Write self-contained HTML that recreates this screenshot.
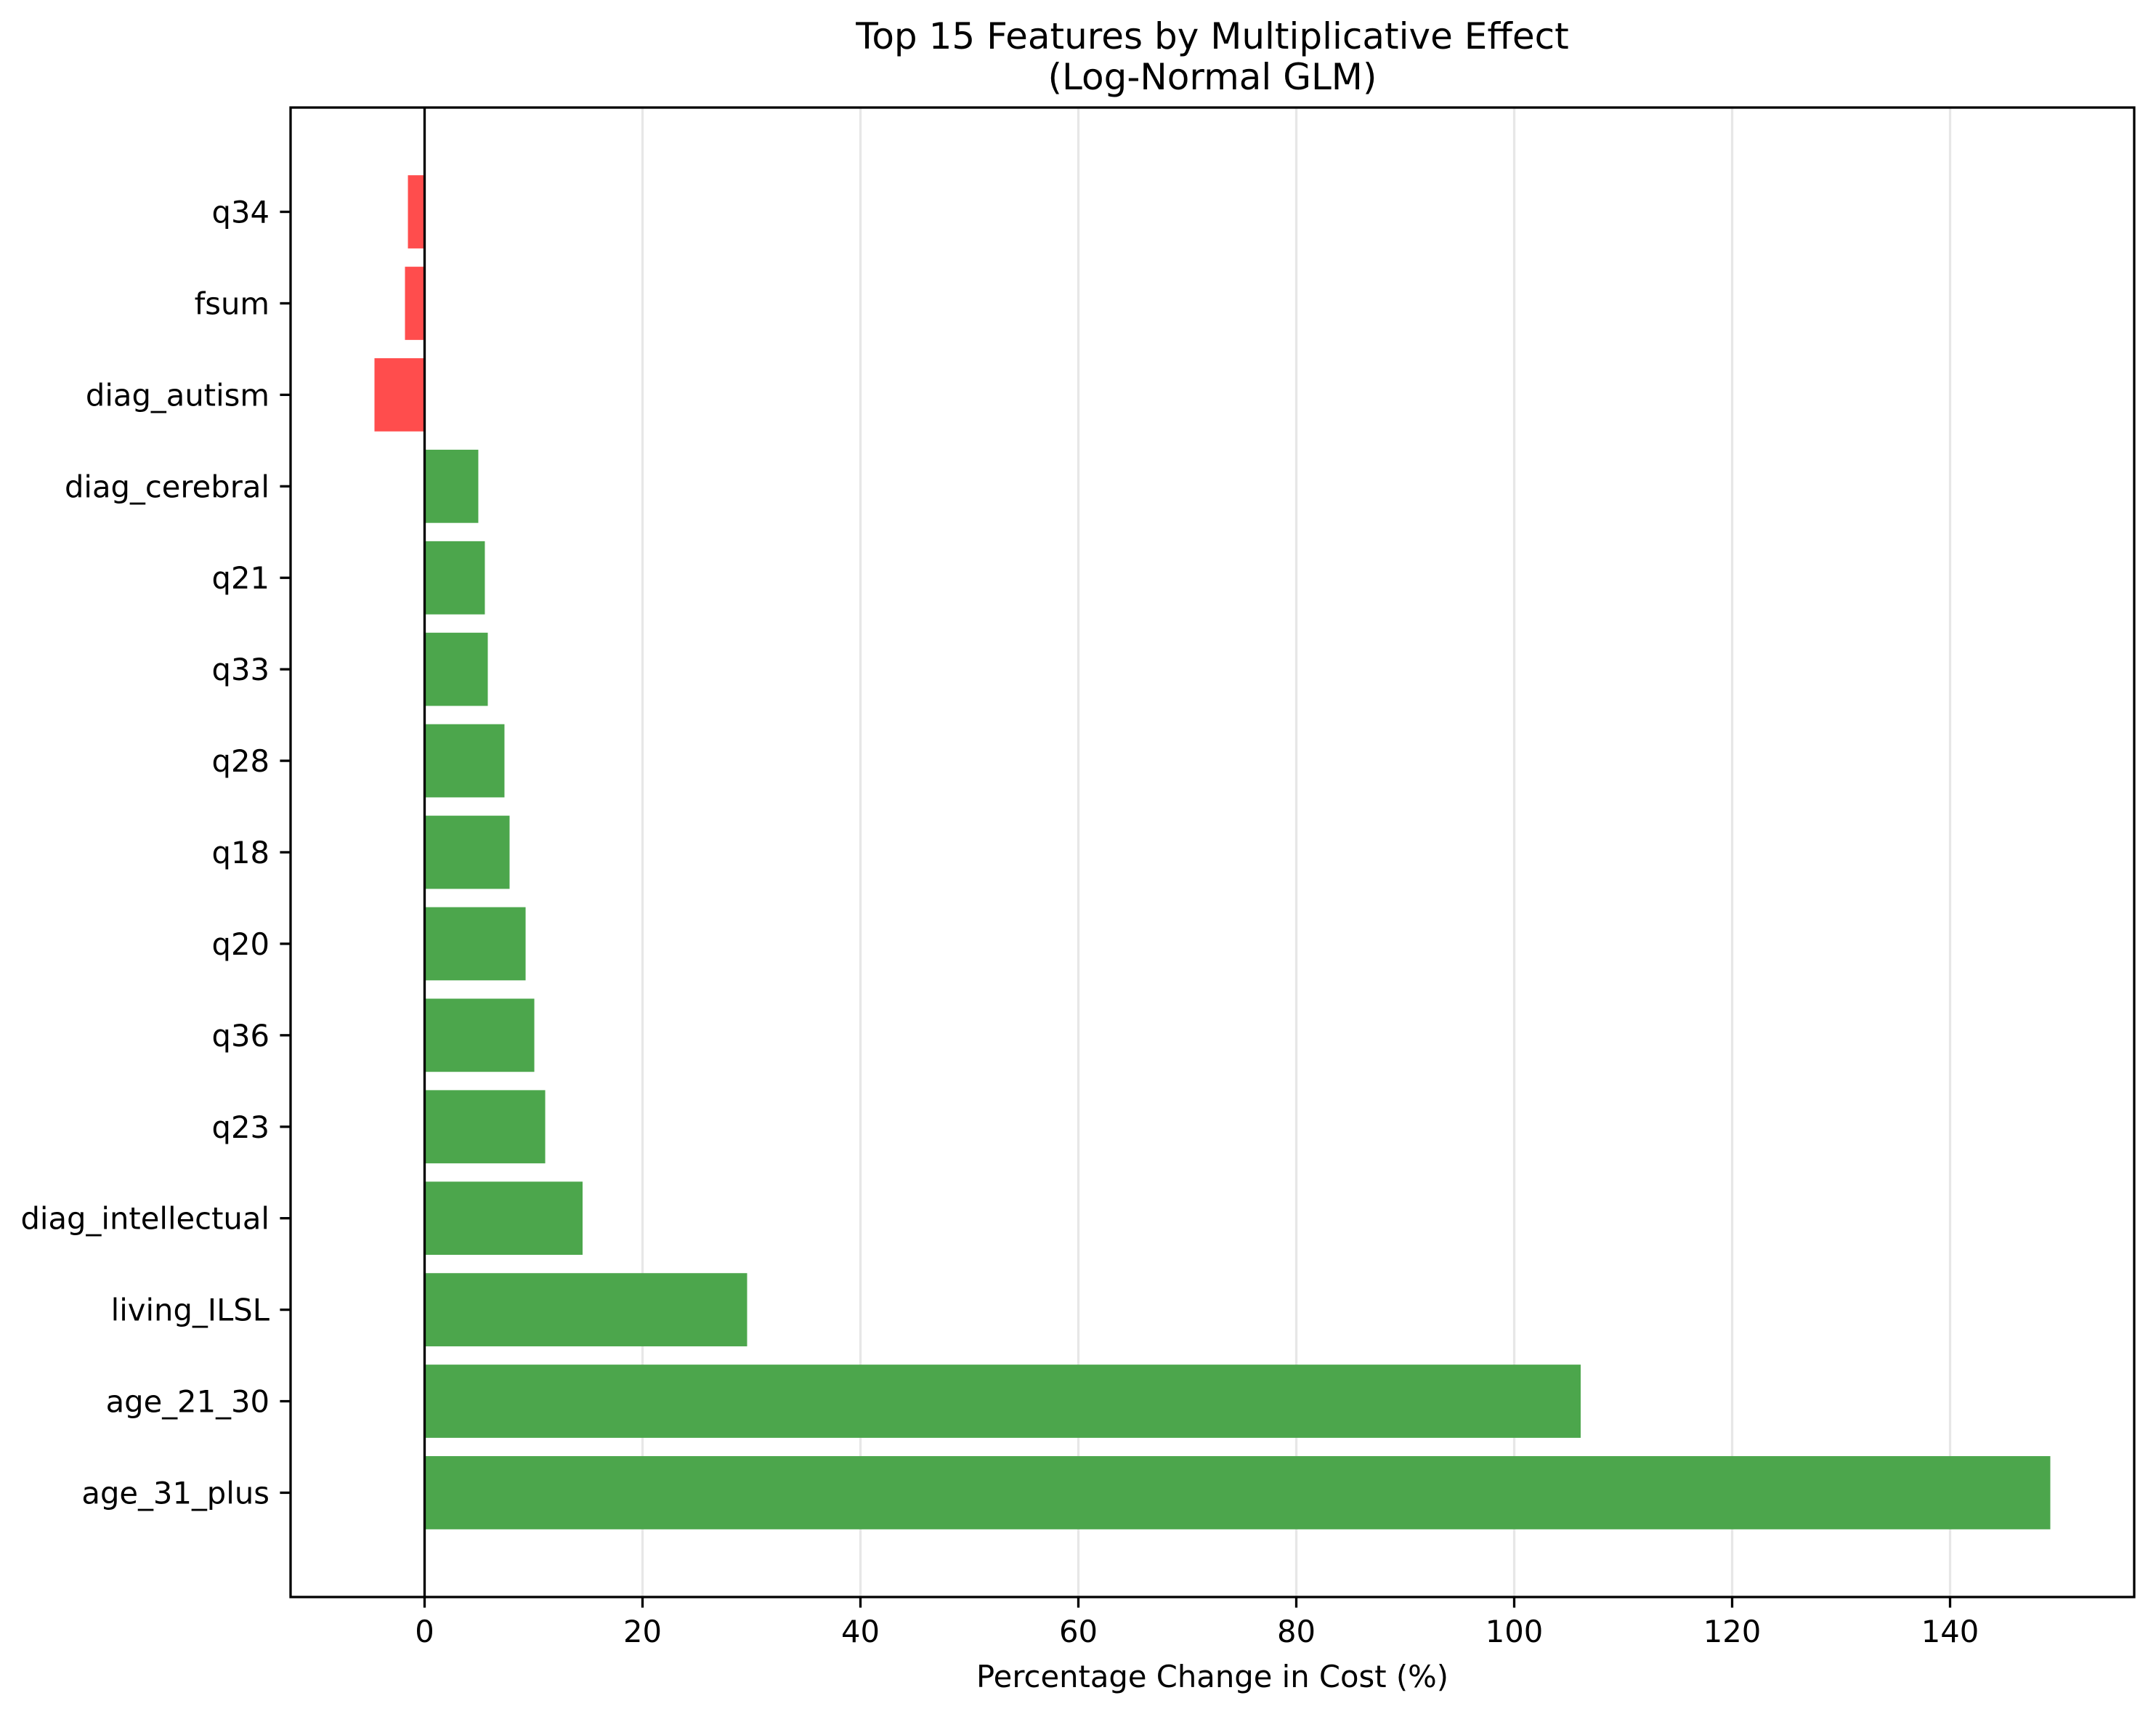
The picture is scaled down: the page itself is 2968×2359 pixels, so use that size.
<!DOCTYPE html>
<html><head><meta charset="utf-8"><style>
html,body{margin:0;padding:0;background:#fff;}
svg{display:block;font-family:"DejaVu Sans","Liberation Sans",sans-serif;}
</style></head><body>
<svg id="chart" width="2968" height="2359" viewBox="0 0 2968 2359" xmlns="http://www.w3.org/2000/svg">
<rect width="2968" height="2359" fill="#fff"/>
<text x="1669" y="67" font-size="50" text-anchor="middle">Top 15 Features by Multiplicative Effect</text>
<text x="1669" y="123" font-size="50" text-anchor="middle">(Log-Normal GLM)</text>
<g id="grid"></g>
<g id="bars"></g>
<g id="axes"></g>
<text x="1669" y="2322" font-size="41.7" text-anchor="middle">Percentage Change in Cost (%)</text>
</svg>
<script>
const categories = ["age_31_plus","age_21_30","living_ILSL","diag_intellectual","q23","q36","q20","q18","q28","q33","q21","diag_cerebral","diag_autism","fsum","q34"];
const values = [149.2,106.1,29.6,14.5,11.07,10.07,9.27,7.8,7.33,5.8,5.53,4.93,-4.6,-1.8,-1.53];
const xTicks = [0,20,40,60,80,100,120,140];

const NS="http://www.w3.org/2000/svg";
const L=400,R=2938,T=148,B=2198;
const xmin=-12.3,xmax=156.9,ymin=-1.14,ymax=categories.length-1+1.14;
const sx=v=>L+(v-xmin)/(xmax-xmin)*(R-L);
const sy=i=>B-(i-ymin)/(ymax-ymin)*(B-T);
function mk(tag,attrs,parent){const e=document.createElementNS(NS,tag);for(const k in attrs)e.setAttribute(k,attrs[k]);parent.appendChild(e);return e;}
const grid=document.getElementById('grid'),bars=document.getElementById('bars'),axes=document.getElementById('axes');
const bh=(sy(0)-sy(0.8));
xTicks.forEach(t=>{
  const g=mk('line',{x1:sx(t),x2:sx(t),y1:T,y2:B,stroke:'#b0b0b0','stroke-opacity':0.3,'stroke-width':3.3},grid);
  
  
});
categories.forEach((c,i)=>{
  const v=values[i];
  const x0=sx(Math.min(0,v)),x1=sx(Math.max(0,v));
  const r=mk('rect',{x:x0,y:sy(i)-bh/2,width:x1-x0,height:bh,fill:v>=0?'#4ca64c':'#ff4d4d'},bars);
  
  
  const tk=mk('line',{x1:L-14.6,x2:L,y1:sy(i),y2:sy(i),stroke:'#000','stroke-width':3.3},axes);
  
  
  const lb=mk('text',{x:L-29,y:sy(i)+15,'font-size':41.7,'text-anchor':'end'},axes);
  lb.textContent=c;
  
  
});
const zl=mk('line',{x1:sx(0),x2:sx(0),y1:T,y2:B,stroke:'#000','stroke-width':3.3},axes);


xTicks.forEach(t=>{
  const tk=mk('line',{x1:sx(t),x2:sx(t),y1:B,y2:B+14.6,stroke:'#000','stroke-width':3.3},axes);
  
  
  const lb=mk('text',{x:sx(t),y:2260,'font-size':41.7,'text-anchor':'middle'},axes);
  lb.textContent=t;
  
  
});
const fr=mk('rect',{x:L,y:T,width:R-L,height:B-T,fill:'none',stroke:'#000','stroke-width':3.3},axes);


</script>
</body></html>
